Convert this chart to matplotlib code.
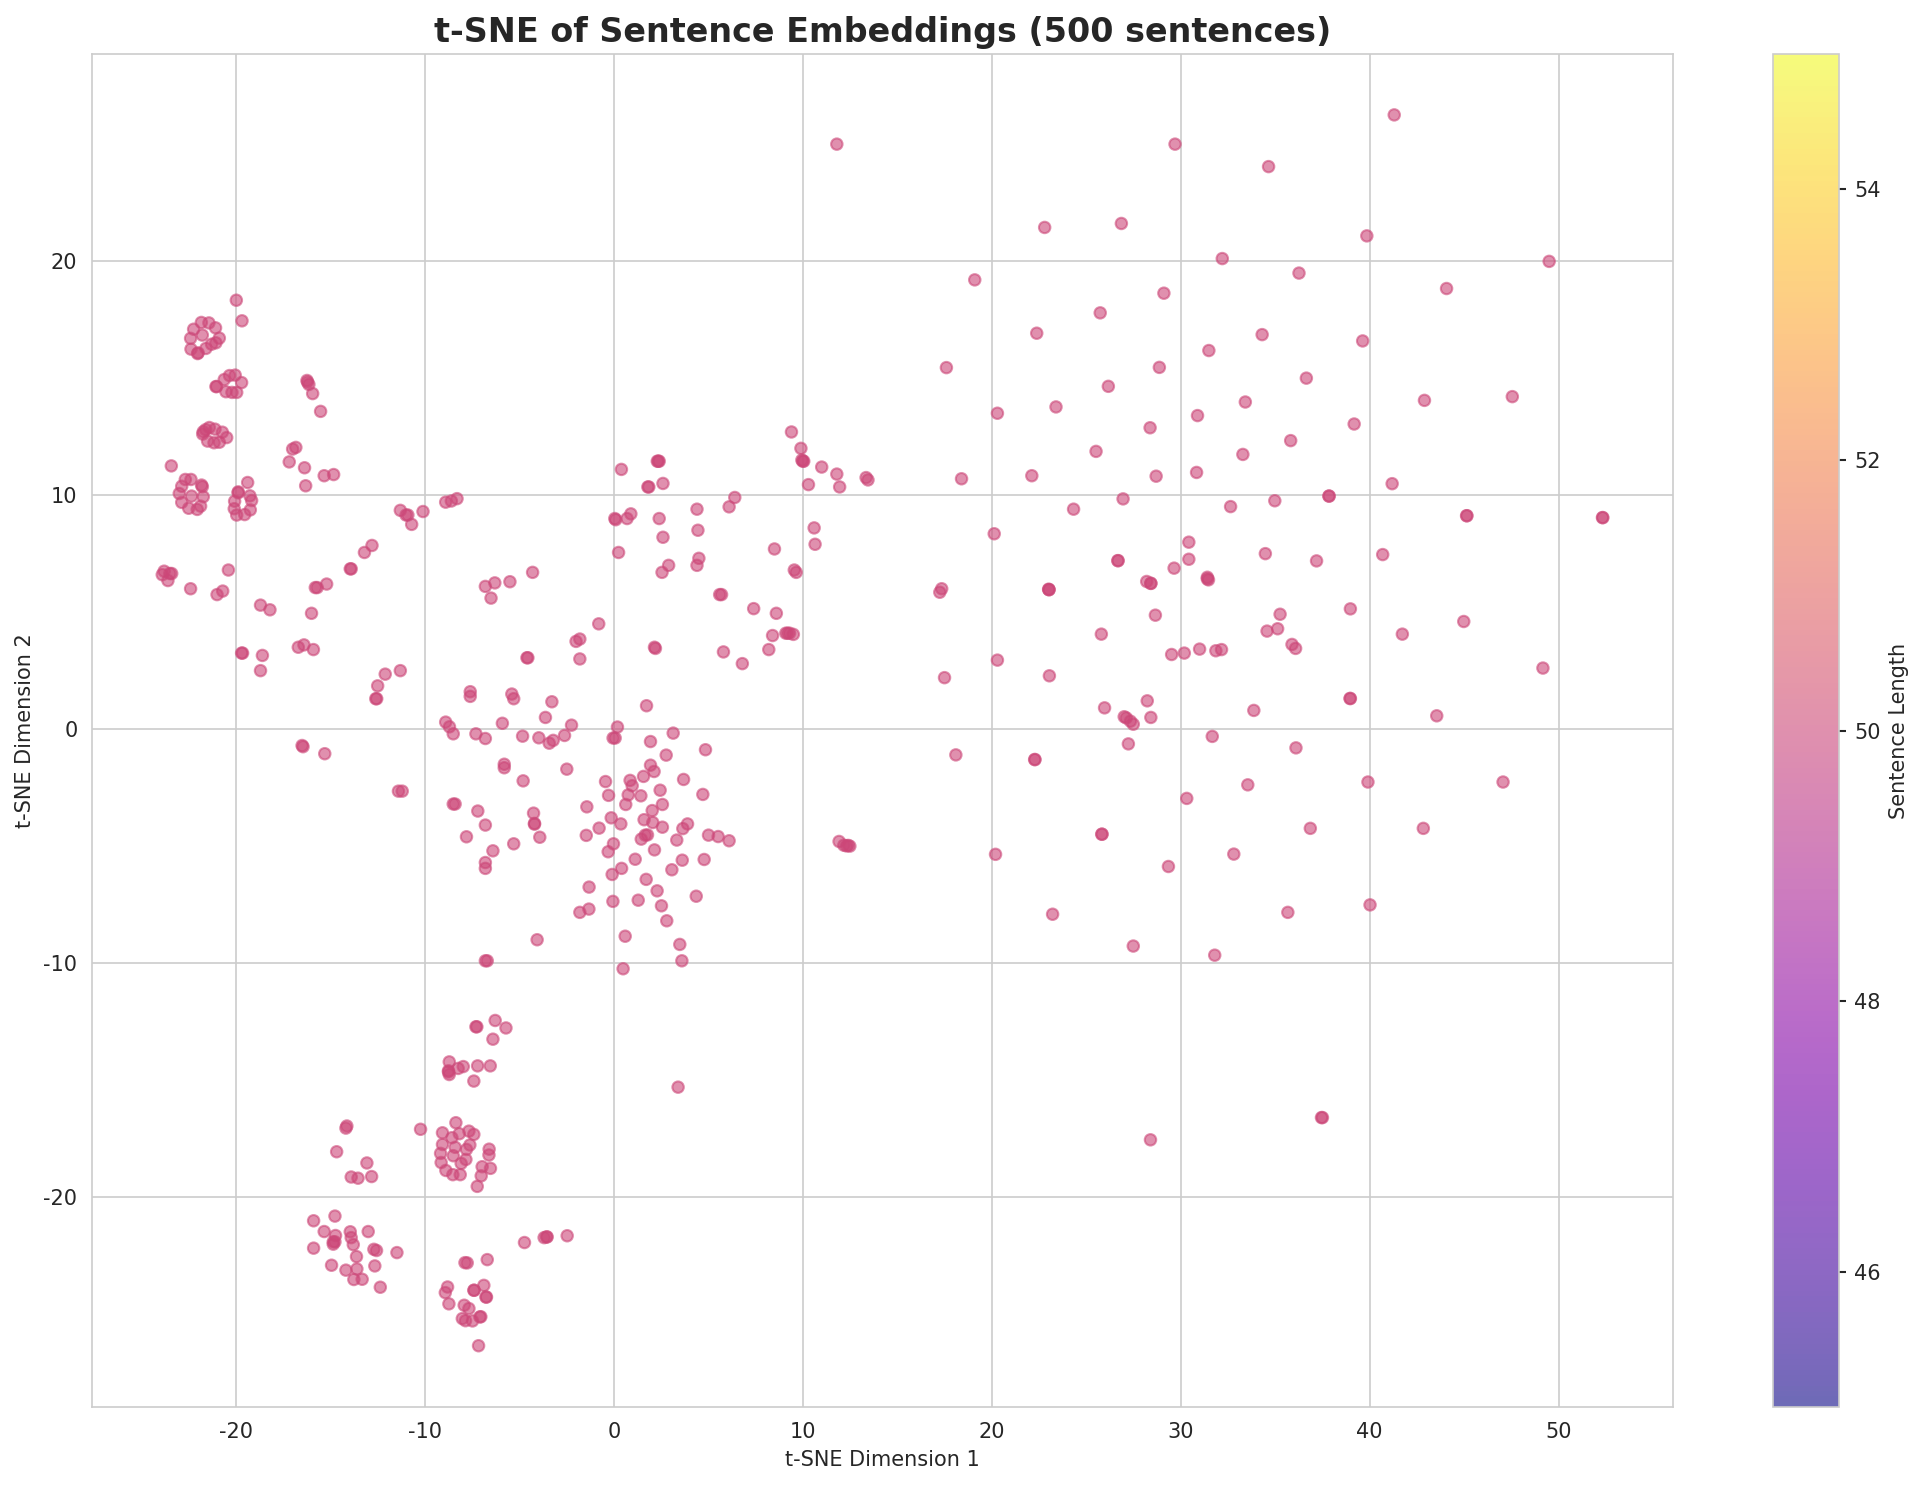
import numpy as np
import matplotlib
matplotlib.use("Agg")
import matplotlib.pyplot as plt
import seaborn as sns

# points, roughly by region
left_x = [-19.98,-19.68,-21.83,-21.43,-22.24,-21.08,-21.78,-22.4,-20.88,-21.06,-21.29,-21.59,-22.38,-22.03,-22.0,
    -20.04,-20.34,-20.62,-19.7,-21.06,-21.02,-20.53,-20.21,-19.96,
    -21.41,-21.73,-21.76,-21.6,-21.11,-20.72,-20.49,-21.5,-21.16,-20.88,
    -23.42,-22.38,-22.68,-22.87,-23,-21.82,-21.78,-21.73,-22.35,-22.87,-21.87,-22.5,-22.05,
    -19.38,-19.88,-19.88,-19.26,-19.17,-20.07,-19.24,-20.09,-19.54,-19.96,
    -23.9,-23.8,-23.5,-23.6,-23.4,-20.4,-22.4,-20.7,-21,-18.7,-18.2,-19.7,-19.65,-18.6,-18.7,
    -16.24,-16.21,-16.14,-15.94,-15.52,-17,-16.83,-17.18,-16.37,-16.31,-15.33,-14.83,-11.3,-11,-10.9,-10.7,-10.1,
    -8.9,-8.6,-8.3,-12.8,-13.2,-13.9,-13.95,-15.7,-15.8,-15.2,-16,-16.7,-16.4,-15.9,-11.3,-12.1,-12.5,
    -12.6,-12.55,-16.5,-16.45,-15.3,-11.4,-11.2]
left_y = [18.33,17.45,17.38,17.36,17.09,17.15,16.84,16.7,16.71,16.51,16.45,16.27,16.24,16.05,16.08,
    15.13,15.11,14.94,14.81,14.64,14.64,14.42,14.39,14.39,
    12.89,12.71,12.61,12.8,12.82,12.69,12.46,12.31,12.24,12.26,
    11.25,10.67,10.67,10.38,10.07,10.43,10.36,9.93,9.96,9.69,9.53,9.44,9.39,
    10.54,10.14,10.1,9.97,9.77,9.74,9.37,9.42,9.17,9.15,
    6.6,6.75,6.65,6.35,6.65,6.8,6,5.9,5.75,5.3,5.1,3.25,3.25,3.15,2.5,
    14.9,14.83,14.73,14.34,13.58,11.97,12.04,11.42,11.17,10.4,10.83,10.88,9.35,9.15,9.15,8.75,9.3,
    9.7,9.75,9.85,7.85,7.55,6.85,6.85,6.05,6.05,6.2,4.95,3.5,3.6,3.4,2.5,2.35,1.85,
    1.3,1.3,-0.7,-0.75,-1.05,-2.65,-2.65]

# centre group, above y=1.2 or left of x=-5
mid_x = [-6.8,-6.3,-6.5,-5.5,-4.3,-4.6,-4.55,-0.8,-2,-1.8,-1.8,-7.6,-7.6,-5.4,-5.3,-8.9,-8.7,-8.5,-7.3,-6.8,-5.9,
    -5.8,-5.8,-8.5,-8.4,-7.2,-7.8,-6.8,-6.4,-5.3,-6.8,-6.8,-6.8,-6.7,3.4,
    0.05,0.1,0.25,0.4,0.7,0.9,1.8,1.85,2.3,2.35,2.4,2.6,2.4,2.6,2.55,2.9,2.15,2.2,4.4,4.45,4.5,4.4,6.1,6.4,5.6,5.7,5.8,6.8,
    7.4,8.2,8.4,8.5,8.6,9.1,9.2,9.3,9.5,9.55,9.65,9.4,9.9,9.95,10,10.05,10.3,10.6,10.65,11,11.8,11.95,13.35,13.45]
mid_y = [6.1,6.25,5.6,6.3,6.7,3.05,3.05,4.5,3.75,3.85,3,1.6,1.4,1.5,1.3,0.3,0.1,-0.2,-0.2,-0.4,0.25,
    -1.5,-1.65,-3.2,-3.2,-3.5,-4.6,-4.1,-5.2,-4.9,-5.7,-5.95,-9.9,-9.9,-15.3,
    9,8.95,7.55,11.1,9,9.2,10.35,10.35,11.45,11.45,11.45,10.5,9,8.2,6.7,7,3.5,3.45,9.4,8.5,7.3,7,9.5,9.9,5.75,5.75,3.3,2.8,
    5.15,3.4,4,7.7,4.95,4.1,4.1,4.1,4.05,6.8,6.7,12.7,12,11.5,11.45,11.45,10.45,8.6,7.9,11.2,10.9,10.35,10.75,10.65]

core_x = [-3.28,1.73,-3.62,-2.24,0.19,3.14,-4.83,-3.97,-3.42,-3.21,-2.61,-0.04,0.07,1.94,4.85,2.77,-2.49,1.94,2.13,1.57,
    -4.8,-0.44,0.86,0.97,3.69,2.45,-0.28,0.76,1.43,4.71,0.63,2.57,-1.43,2.03,-4.25,-4.2,-4.2,-0.14,1.6,0.37,2.06,2.57,3.9,3.65,
    -0.78,-1.46,-3.92,1.66,1.78,1.45,5.01,5.52,6.1,3.33,-0.02,2.15,-0.3,1.13,3.62,4.78,3.07,0.41,-0.09,1.71,2.29,-1.31,4.36,
    -0.05,1.29,2.52,-1.32,-1.8,2.8,-4.06,0.6,3.49,3.6,0.49,11.92,12.17,12.31,12.49,12.4]
core_y = [1.17,1,0.5,0.17,0.09,-0.17,-0.3,-0.37,-0.6,-0.48,-0.27,-0.38,-0.38,-0.53,-0.88,-1.11,-1.71,-1.54,-1.81,-2.02,
    -2.21,-2.24,-2.19,-2.42,-2.15,-2.61,-2.83,-2.81,-2.85,-2.79,-3.22,-3.22,-3.32,-3.48,-3.59,-4.03,-4.06,-3.79,-3.87,-4.05,-3.99,-4.19,-4.05,-4.25,
    -4.23,-4.54,-4.62,-4.53,-4.52,-4.7,-4.53,-4.59,-4.77,-4.74,-4.9,-5.16,-5.24,-5.56,-5.6,-5.57,-6.01,-5.95,-6.21,-6.42,-6.91,-6.75,-7.14,
    -7.36,-7.31,-7.55,-7.69,-7.83,-8.19,-9,-8.85,-9.2,-9.9,-10.24,-4.8,-4.96,-4.99,-5,-4.97]

# lower groups
low_x = [-7.3,-7.25,-6.28,-5.71,-6.4,-8.71,-8.75,-8.71,-8.75,-8.24,-7.97,-7.21,-6.54,-7.41,
    -14.13,-14.18,-14.67,-13.07,-13.9,-13.54,-12.82,-10.23,
    -8.36,-9.07,-8.57,-8.18,-7.67,-7.41,-9.07,-8.4,-7.62,-7.8,-6.6,-6.61,-9.17,-8.5,-7.83,-8.08,-9.14,-8.89,-8.52,-8.13,-6.97,-6.53,-7.02,-7.23,
    -15.89,-14.76,-15.33,-14.73,-13.95,-13.9,-13,-14.85,-14.76,-14.85,-13.79,-15.89,-12.7,-12.56,-11.48,-13.62,-14.94,-12.65,-14.18,-13.6,-13.76,-13.32,-12.36,
    -4.73,-3.69,-3.56,-3.53,-2.47,-6.7,-7.88,-7.76,-6.88,-7.41,-7.39,-6.74,-6.77,-8.8,-8.92,-8.73,-7.92,-7.67,-8.02,-7.85,-7.48,-7.09,-7.04,-7.16]
low_y = [-12.72,-12.72,-12.45,-12.77,-13.25,-14.22,-14.6,-14.76,-14.65,-14.5,-14.42,-14.39,-14.39,-15.04,
    -16.96,-17.05,-18.06,-18.54,-19.14,-19.19,-19.12,-17.1,
    -16.82,-17.25,-17.46,-17.29,-17.18,-17.32,-17.75,-17.87,-17.77,-17.96,-17.95,-18.2,-18.13,-18.23,-18.39,-18.56,-18.52,-18.86,-19.04,-19.04,-18.7,-18.77,-19.09,-19.54,
    -21.01,-20.81,-21.47,-21.64,-21.48,-21.73,-21.47,-21.91,-21.91,-22.01,-22.03,-22.18,-22.23,-22.28,-22.37,-22.54,-22.91,-22.94,-23.12,-23.07,-23.52,-23.51,-23.85,
    -21.94,-21.73,-21.7,-21.7,-21.65,-22.67,-22.8,-22.81,-23.77,-23.98,-23.98,-24.27,-24.27,-23.84,-24.08,-24.56,-24.62,-24.76,-25.19,-25.28,-25.29,-25.12,-25.11,-26.35]

right_x = [11.8,19.1,17.6,18.4,17.35,17.25,17.5,18.1,20.13,20.3,20.3,20.2,37.5,37.45,28.4,
    41.3,29.7,34.65,22.8,26.86,39.85,32.2,36.26,49.5,44.07,29.11,25.74,22.38,39.63,34.31,31.49,28.87,36.65,26.17,23.4,
    33.42,30.89,28.38,42.9,47.55,39.18,35.82,25.52,33.29,22.12,28.7,30.84,41.19,26.95,24.33,32.64,34.98,37.84,37.86,
    45.13,45.15,52.34,52.32,30.43,30.43,34.48,37.19,40.69,26.69,26.67,29.65,28.2,28.42,28.42,31.41,31.47,31.41,23.03,23.03,23.01,
    28.66,35.26,38.98,44.98,41.73,25.8,35.13,34.57,35.89,36.08,29.52,30.19,31,31.86,32.16,49.17,23.05,38.98,38.96,28.23,25.97,33.87,43.55,
    28.42,27.01,27.12,27.34,27.49,31.67,27.23,36.1,22.29,22.27,39.91,47.06,33.55,30.32,36.86,42.84,25.82,25.84,32.81,29.35,23.22,35.67,40.02,27.49,31.8]
right_y = [25,19.2,15.45,10.7,6,5.85,2.2,-1.1,8.35,13.5,2.95,-5.35,-16.6,-16.6,-17.55,
    26.25,25,24.04,21.44,21.61,21.08,20.11,19.49,19.99,18.83,18.63,17.79,16.92,16.59,16.86,16.18,15.46,15,14.65,13.77,
    13.98,13.4,12.88,14.05,14.21,13.04,12.33,11.87,11.74,10.83,10.81,10.97,10.49,9.84,9.4,9.51,9.76,9.96,9.96,
    9.12,9.12,9.04,9.04,7.99,7.26,7.5,7.19,7.46,7.2,7.2,6.88,6.31,6.23,6.23,6.49,6.38,6.42,5.96,5.96,5.98,
    4.87,4.91,5.14,4.6,4.06,4.06,4.29,4.19,3.62,3.45,3.19,3.25,3.42,3.35,3.4,2.61,2.28,1.31,1.31,1.21,0.91,0.8,0.57,
    0.5,0.53,0.48,0.34,0.21,-0.31,-0.63,-0.8,-1.3,-1.3,-2.26,-2.26,-2.38,-2.96,-4.24,-4.24,-4.49,-4.49,-5.34,-5.87,-7.91,-7.83,-7.51,-9.27,-9.66]

x = np.array(left_x + mid_x + core_x + low_x + right_x)
y = np.array(left_y + mid_y + core_y + low_y + right_y)
sentence_len = np.full(len(x), 50)

sns.set_style("whitegrid")
plt.rcParams["axes.unicode_minus"] = False
fig = plt.figure(figsize=(1924/150, 1485/150), dpi=150)
ax = fig.add_axes([0.0478, 0.0525, 0.822, 0.9111])
sc = ax.scatter(x, y, c=sentence_len, cmap="plasma", vmin=45, vmax=55, s=30, alpha=0.6)
ax.set_xlim(-27.62, 56.08)
ax.set_ylim(-28.97, 28.85)
ax.tick_params(labelsize=10)
ax.set_xlabel("t-SNE Dimension 1")
ax.set_ylabel("t-SNE Dimension 2")
ax.set_title("t-SNE of Sentence Embeddings (500 sentences)", fontsize=16, fontweight="bold")

cax = fig.add_axes([0.9216, 0.0525, 0.0344, 0.9111])
cb = fig.colorbar(sc, cax=cax)
cb.set_label("Sentence Length")
cax.grid(False)
cax.tick_params(right=True, length=3.5, width=1, color=".15", labelsize=10)

plt.savefig("out.png", dpi=150)
